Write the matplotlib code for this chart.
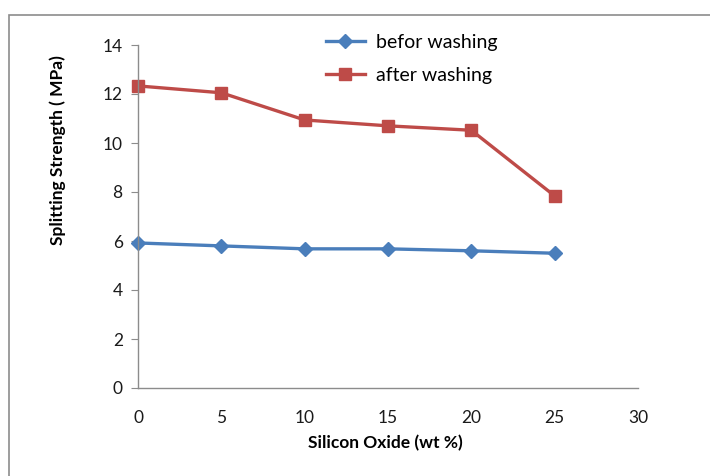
import matplotlib
matplotlib.use('Agg')
import matplotlib.pyplot as plt
from matplotlib.patches import Rectangle

# ── data ──────────────────────────────────────────────────────
silica = [0, 5, 10, 15, 20, 25]
before_washing = [5.92, 5.8, 5.68, 5.68, 5.6, 5.5]
after_washing = [12.33, 12.05, 10.94, 10.7, 10.52, 7.84]
x_ticks = [0, 5, 10, 15, 20, 25, 30]
y_ticks = [0, 2, 4, 6, 8, 10, 12, 14]

BLUE = '#4A7EBB'
RED = '#BE4B48'
plt.rcParams['font.family'] = ['Lato', 'DejaVu Sans']

fig = plt.figure(figsize=(7.10, 4.76), dpi=100)
# outer chart frame (clipped at right and bottom like the screenshot)
fig.patches.append(Rectangle((9 / 710, -0.1), 1.0, 1 - 15 / 476 + 0.1,
                             transform=fig.transFigure, fill=False,
                             edgecolor='#8c8c8c', linewidth=1.2))

ax = fig.add_axes([138 / 710, 1 - 388 / 476, 500 / 710, 343 / 476])
ax.plot(silica, before_washing, color=BLUE, linewidth=2.4, marker='D',
        markersize=7.5, label='befor washing', clip_on=False)
ax.plot(silica, after_washing, color=RED, linewidth=2.4, marker='s',
        markersize=9, label='after washing', clip_on=False)

ax.set_xlim(0, 30)
ax.set_ylim(0, 14)
ax.set_xticks(x_ticks)
ax.set_yticks(y_ticks)
for s in ('top', 'right'):
    ax.spines[s].set_visible(False)
for s in ('left', 'bottom'):
    ax.spines[s].set_color('#8c8c8c')
    ax.spines[s].set_linewidth(1.0)
ax.tick_params(axis='y', direction='out', length=5, color='#8c8c8c',
               labelsize=12.5, labelcolor='#1a1a1a', pad=6)
ax.tick_params(axis='x', length=0, labelsize=12.5, labelcolor='#1a1a1a',
               pad=16)

ax.set_xlabel('Silicon Oxide (wt %)', fontsize=12.5, fontweight='bold')
ax.set_ylabel('Splitting Strength ( MPa)', fontsize=12.5, fontweight='bold')
ax.yaxis.set_label_coords(58 / 710, 1 - 150 / 476, transform=fig.transFigure)
ax.xaxis.set_label_coords(385 / 710, 1 - 443 / 476, transform=fig.transFigure)
ax.xaxis.label.set_va('center')
ax.yaxis.label.set_va('center')

ax.legend(loc='upper left', bbox_to_anchor=(318 / 710, 1 - 26 / 476),
          bbox_transform=fig.transFigure, frameon=False, fontsize=14,
          handlelength=2.0, handletextpad=0.6, labelspacing=0.82,
          borderaxespad=0)

fig.savefig('out.png', dpi=100)
